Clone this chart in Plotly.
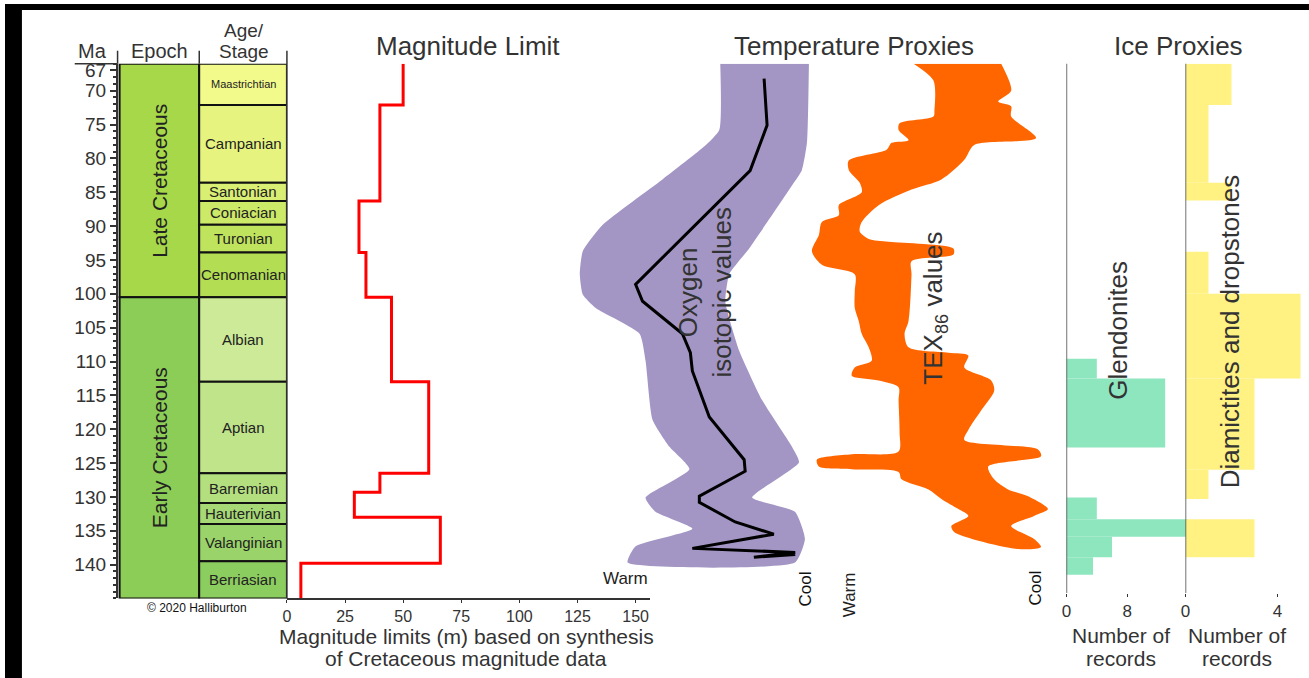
import plotly.graph_objects as go

W, H = 1309, 678

# ---------------- data ----------------
ma_ticks = [67, 70, 75, 80, 85, 90, 95, 100, 105, 110, 115, 120, 125, 130, 135, 140]

epoch_names = ["Late Cretaceous", "Early Cretaceous"]
epoch_top = [66.0, 100.5]
epoch_base = [100.5, 145.0]
epoch_colors = ["#A6D84A", "#8CCD57"]

stage_names = ["Maastrichtian", "Campanian", "Santonian", "Coniacian", "Turonian",
               "Cenomanian", "Albian", "Aptian", "Barremian", "Hauterivian",
               "Valanginian", "Berriasian"]
stage_top = [66.0, 72.1, 83.6, 86.3, 89.8, 93.9, 100.5, 113.0, 126.5, 130.9, 134.0, 139.5]
stage_base = [72.1, 83.6, 86.3, 89.8, 93.9, 100.5, 113.0, 126.5, 130.9, 134.0, 139.5, 145.0]
stage_colors = ["#F2FA8C", "#E6F47F", "#D9EF74", "#CCE968", "#BFE35D", "#B3DE53",
                "#CCEA97", "#BFE48A", "#B3DF7F", "#A6D975", "#99D36A", "#8CCD60"]

# Magnitude limit (m) per interval
mag_bounds = [66.0, 72.1, 86.3, 93.9, 100.5, 113.0, 126.5, 129.3, 133.0, 139.8, 145.0]
mag_values = [50, 40, 31, 34, 45, 61, 40, 29, 66, 6]
mag_ticks = [0, 25, 50, 75, 100, 125, 150]

# Oxygen isotope curve (relative index, 0 = warm, 100 = cool)
oxy_ma = [68.2, 75.1, 81.8, 98.6, 101.1, 105.9, 108.7, 111.4, 118.2, 124.5, 126.2,
          129.9, 130.8, 133.7, 135.5, 137.6, 138.2, 138.9, 138.5]
oxy_val = [80.8, 82.0, 75.2, 29.2, 32.0, 48.0, 51.2, 52.0, 58.8, 72.8, 73.2,
           54.8, 54.8, 69.2, 84.7, 52.0, 93.3, 76.7, 93.3]

# Oxygen isotope uncertainty envelope
band_left_ma = [66.0, 75.8, 78.1, 83.1, 89.8, 93.7, 97.1, 100.1, 102.1, 105.9, 109.9,
                118.6, 122.6, 125.9, 130.1, 132.2, 134.7, 137.3, 139.7]
band_left_val = [63.2, 62.8, 57.2, 40.0, 16.0, 8.0, 6.8, 8.0, 13.2, 30.8, 33.2,
                 36.0, 42.8, 50.8, 33.2, 37.2, 52.0, 29.2, 26.0]
band_right_ma = [66.0, 77.7, 81.7, 84.0, 93.3, 97.1, 101.1, 103.6, 108.4, 115.7, 122.6,
                 124.9, 130.1, 132.2, 136.2, 139.7]
band_right_val = [98.8, 98.0, 96.0, 92.0, 74.8, 66.8, 65.2, 66.8, 70.8, 80.0, 92.0,
                  94.8, 76.0, 93.2, 97.2, 93.2]

# TEX86 envelope (relative index, 0 = warm, 100 = cool)
tex_right_ma = [66.0, 70.0, 71.6, 72.3, 73.8, 77.0, 78.0, 80.2, 83.1, 84.6, 86.9, 89.4,
                90.8, 91.9, 92.3, 93.3, 94.2, 95.2, 97.1, 104.0, 105.9, 107.9, 108.7,
                109.1, 110.9, 112.8, 114.3, 117.2, 120.1, 121.6, 123.0, 124.0, 125.5,
                127.4, 128.9, 129.9, 131.8, 132.8, 134.3, 136.2, 137.4, 137.7]
tex_right_val = [80.0, 84.0, 78.8, 84.0, 84.0, 94.0, 69.2, 65.2, 56.0, 44.0, 30.8, 24.0,
                 23.2, 26.8, 34.8, 60.8, 60.8, 44.0, 44.0, 42.8, 41.2, 42.8, 58.8,
                 66.8, 65.2, 76.0, 77.2, 72.0, 66.8, 65.2, 94.8, 96.0, 74.8,
                 77.2, 82.8, 90.8, 98.8, 93.2, 84.0, 93.2, 96.0, 86.8]
tex_left_ma = [66.0, 68.5, 72.9, 73.8, 74.8, 75.8, 77.3, 77.7, 78.7, 80.3, 81.7, 83.6,
               85.0, 86.9, 88.4, 89.4, 91.3, 93.7, 95.7, 97.1, 99.6, 102.1, 104.0,
               105.9, 107.9, 109.9, 110.9, 112.1, 112.8, 113.8, 115.7, 120.5, 123.3,
               123.7, 124.5, 125.5, 125.9, 126.3, 127.4, 128.9, 130.3, 131.8, 132.8,
               134.3, 135.2]
tex_left_val = [44.8, 52.8, 53.2, 52.8, 39.2, 38.8, 42.8, 36.0, 34.0, 18.8, 18.8, 23.2,
                24.0, 14.8, 14.8, 8.0, 6.8, 4.0, 8.0, 21.2, 21.2, 21.2, 22.8,
                24.0, 26.8, 28.0, 21.2, 20.0, 30.8, 38.8, 38.8, 39.2, 38.8,
                20.0, 6.0, 6.8, 20.0, 38.8, 40.0, 50.8, 56.0, 62.8, 66.8,
                60.0, 61.2]

# Ice proxies: number of records per interval
glend_top = [109.6, 112.5, 130.1, 133.3, 135.9, 138.9]
glend_base = [112.5, 122.7, 133.3, 135.9, 138.9, 141.5]
glend_count = [4, 13, 4, 16, 6, 3.5]

diam_top = [66.0, 72.1, 83.6, 93.8, 100.0, 112.5, 126.0, 133.3]
diam_base = [72.1, 83.6, 86.2, 100.0, 112.5, 126.0, 130.3, 138.9]
diam_count = [2, 1, 2, 1, 5, 3, 1, 3]

# ---------------- helpers ----------------
FONT = "Liberation Sans, Arial, Helvetica, sans-serif"
TXT = "#333333"


def fx(p):
    return p / W


def fy(p):
    return 1 - p / H


def mids(top, base):
    return [(a + b) / 2 for a, b in zip(top, base)]


def spans(top, base):
    return [b - a for a, b in zip(top, base)]


fig = go.Figure()

# Stratigraphic column (epoch and stage boxes)
fig.add_trace(go.Bar(x=[0.47] * len(epoch_names), base=[0.012] * len(epoch_names),
                     y=mids(epoch_top, epoch_base), width=spans(epoch_top, epoch_base),
                     orientation="h", xaxis="x", yaxis="y",
                     marker=dict(color=epoch_colors, line=dict(color="#111", width=2)),
                     hoverinfo="skip"))
fig.add_trace(go.Bar(x=[0.518] * len(stage_names), base=[0.482] * len(stage_names),
                     y=mids(stage_top, stage_base), width=spans(stage_top, stage_base),
                     orientation="h", xaxis="x", yaxis="y",
                     marker=dict(color=stage_colors, line=dict(color="#111", width=2)),
                     hoverinfo="skip"))

# Magnitude step line
step_x, step_y = [], []
for i, v in enumerate(mag_values):
    step_x += [v, v]
    step_y += [mag_bounds[i], mag_bounds[i + 1]]
fig.add_trace(go.Scatter(x=step_x, y=step_y, xaxis="x2", yaxis="y", mode="lines",
                         line=dict(color="#FF0000", width=3), hoverinfo="skip"))

# Oxygen isotope band
fig.add_trace(go.Scatter(x=band_left_val + band_right_val[::-1],
                         y=band_left_ma + band_right_ma[::-1],
                         xaxis="x3", yaxis="y", mode="lines", fill="toself",
                         fillcolor="#A396C4",
                         line=dict(width=0, color="#A396C4", shape="spline", smoothing=0.5),
                         hoverinfo="skip"))
fig.add_trace(go.Scatter(x=oxy_val, y=oxy_ma, xaxis="x3", yaxis="y", mode="lines",
                         line=dict(color="black", width=3), hoverinfo="skip"))

# TEX86 envelope
fig.add_trace(go.Scatter(x=tex_right_val + tex_left_val[::-1],
                         y=tex_right_ma + tex_left_ma[::-1],
                         xaxis="x4", yaxis="y", mode="lines", fill="toself",
                         fillcolor="#FF6600",
                         line=dict(width=0, color="#FF6600", shape="spline", smoothing=0.8),
                         hoverinfo="skip"))

# Ice proxies bars
fig.add_trace(go.Bar(x=glend_count, y=mids(glend_top, glend_base),
                     width=spans(glend_top, glend_base),
                     orientation="h", xaxis="x5", yaxis="y",
                     marker=dict(color="#8EE6BF", line=dict(width=0)), hoverinfo="skip"))
fig.add_trace(go.Bar(x=diam_count, y=mids(diam_top, diam_base),
                     width=spans(diam_top, diam_base),
                     orientation="h", xaxis="x6", yaxis="y",
                     marker=dict(color="#FFF182", line=dict(width=0)), hoverinfo="skip"))

shapes = []
annotations = []

# black frame on the top and left edges
shapes.append(dict(type="rect", xref="paper", yref="paper", x0=0, x1=fx(17), y0=0, y1=1,
                   fillcolor="black", line=dict(width=0), layer="below"))
shapes.append(dict(type="rect", xref="paper", yref="paper", x0=0, x1=1, y0=fy(6), y1=1,
                   fillcolor="black", line=dict(width=0), layer="below"))

# column labels
for name, t, b in zip(epoch_names, epoch_top, epoch_base):
    annotations.append(dict(xref="x", yref="y", x=0.247, y=(t + b) / 2, text=name,
                            textangle=-90, showarrow=False,
                            font=dict(family=FONT, size=21, color="#222")))
for name, t, b in zip(stage_names, stage_top, stage_base):
    annotations.append(dict(xref="x", yref="y", x=0.741, y=(t + b) / 2, text=name,
                            showarrow=False,
                            font=dict(family=FONT, size=11 if name == "Maastrichtian" else 15,
                                      color="#222")))

# header separators
for xp in [113, 195]:
    shapes.append(dict(type="line", xref="paper", yref="paper", x0=fx(xp), x1=fx(xp),
                       y0=fy(47), y1=fy(60), line=dict(color="#333", width=1.5)))
shapes.append(dict(type="line", xref="paper", yref="paper", x0=fx(283), x1=fx(283),
                   y0=fy(47), y1=fy(598), line=dict(color="#333", width=1.5)))
shapes.append(dict(type="line", xref="paper", yref="paper", x0=fx(70), x1=fx(113),
                   y0=fy(60), y1=fy(60), line=dict(color="#333", width=1.5)))

# ice proxy axis lines
for ax in ["x5", "x6"]:
    shapes.append(dict(type="line", xref=ax, yref="y domain", x0=0, x1=0, y0=0.01, y1=1,
                       line=dict(color="#444", width=1.5)))


def ann(text, xp, yp, size, angle=0, color=TXT, xanchor="center"):
    annotations.append(dict(xref="paper", yref="paper", x=fx(xp), y=fy(yp), text=text,
                            textangle=angle, showarrow=False, xanchor=xanchor,
                            yanchor="middle", font=dict(family=FONT, size=size, color=color)))


ann("Ma", 88, 47, 20)
ann("Epoch", 155, 47, 20)
ann("Age/", 240, 27, 19)
ann("Stage", 240, 48, 19)
ann("Magnitude Limit", 465, 42, 26)
ann("Temperature Proxies", 852, 42, 26)
ann("Ice Proxies", 1178, 42, 26)
ann("© 2020 Halliburton", 193, 608, 12, color="#111")
ann("Magnitude limits (m) based on synthesis", 463, 636, 21)
ann("of Cretaceous magnitude data", 463, 658, 21)
ann("Number of", 1120, 635, 21)
ann("records", 1120, 658, 21)
ann("Number of", 1237, 635, 21)
ann("records", 1237, 658, 21)
ann("Warm", 623, 578, 17, color="#222")
ann("Cool", 804, 588, 17, angle=-90, color="#111")
ann("Warm", 848, 594, 17, angle=-90, color="#222")
ann("Cool", 1034, 588, 17, angle=-90, color="#111")
ann("Oxygen<br>isotopic values", 703, 290, 26, angle=-90, color="#333")
ann("TEX<sub>86</sub> values", 933, 306, 26, angle=-90, color="#333")
ann("Glendonites", 1117, 328, 26, angle=-90, color="#333")
ann("Diamictites and dropstones", 1230, 329, 26, angle=-90, color="#333")

ice_axis = dict(anchor="free", position=fy(592), showline=False, ticks="outside",
                ticklen=3, tickcolor="#333", tickfont=dict(family=FONT, size=17, color=TXT),
                showgrid=False, zeroline=False)

fig.update_layout(
    width=W, height=H, margin=dict(l=0, r=0, t=0, b=0),
    paper_bgcolor="white", plot_bgcolor="rgba(0,0,0,0)",
    showlegend=False, barmode="overlay",
    shapes=shapes, annotations=annotations,
    font=dict(family=FONT, color=TXT),
    xaxis=dict(domain=[fx(113), fx(283)], range=[0, 1], visible=False, anchor="y"),
    yaxis=dict(domain=[fy(598), fy(60)], range=[145, 66], autorange=False, anchor="x",
               showline=True, linecolor="#333", linewidth=1.5, ticks="outside", ticklen=6,
               tickwidth=1.5, tickcolor="#333", tickvals=ma_ticks,
               tickfont=dict(family=FONT, size=19, color=TXT), showgrid=False, zeroline=False,
               minor=dict(ticks="outside", ticklen=3, dtick=1, tick0=66, tickcolor="#333",
                          showgrid=False)),
    xaxis2=dict(domain=[fx(283), fx(647)], range=[0, 156], anchor="y", showline=True,
                linecolor="#333", linewidth=1.5, ticks="outside", ticklen=3, tickcolor="#333",
                tickvals=mag_ticks, tickfont=dict(family=FONT, size=16, color=TXT),
                showgrid=False, zeroline=False),
    xaxis3=dict(domain=[fx(560), fx(810)], range=[0, 100], anchor="y", visible=False),
    xaxis4=dict(domain=[fx(800), fx(1050)], range=[0, 100], anchor="y", visible=False),
    xaxis5=dict(domain=[fx(1065.5), fx(1187.5)], range=[0, 16], tickvals=[0, 8], **ice_axis),
    xaxis6=dict(domain=[fx(1185), 1.0], range=[0, 5.368], tickvals=[0, 4], **ice_axis),
)

fig.write_html("out.html", config={"displayModeBar": False})
